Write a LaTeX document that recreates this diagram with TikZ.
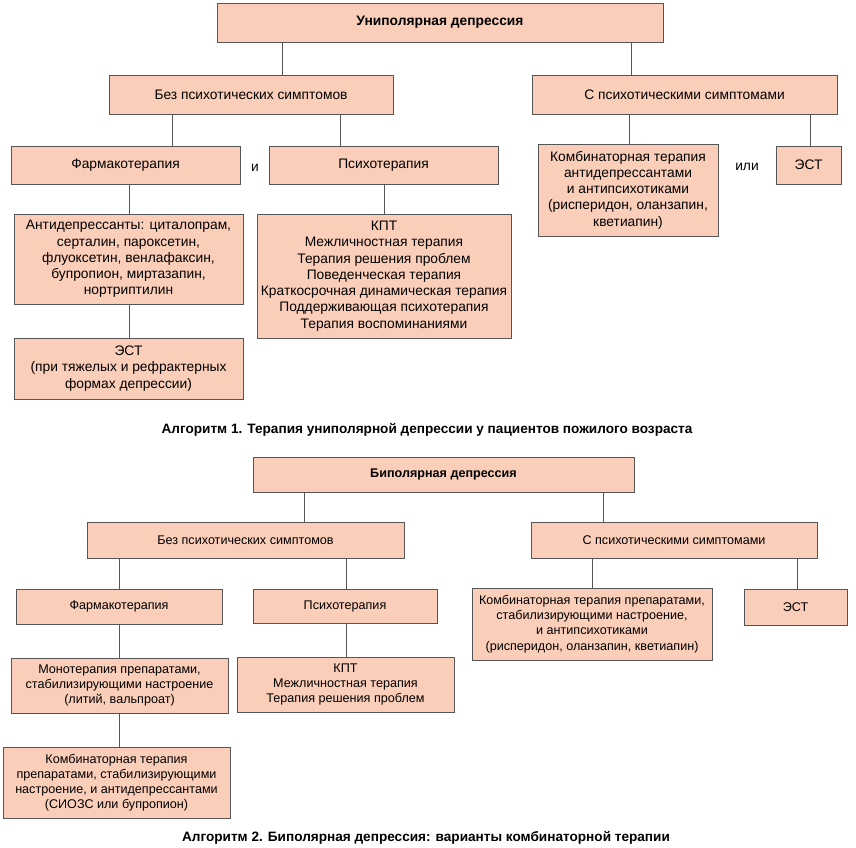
\documentclass[tikz,border=0pt]{standalone}
\usepackage{fontspec}
\setmainfont{Liberation Sans}
\definecolor{boxfill}{RGB}{251,206,185}
\definecolor{boxline}{RGB}{85,85,85}
\begin{document}
\begin{tikzpicture}[x=1pt,y=-1pt,
  box/.style={rectangle,draw=boxline,fill=boxfill,line width=0.9pt,inner sep=0pt,align=center},
  up/.style={box,font=\fontsize{13.8}{16.3}\selectfont},
  lo/.style={box,font=\fontsize{12.6}{15.2}\selectfont},
  conn/.style={draw=boxline,line width=0.9pt},
  plain/.style={inner sep=0pt,font=\fontsize{13.8}{15}\selectfont},
  caption/.style={inner sep=0pt,font=\fontsize{13.6}{15}\selectfont\bfseries}]
\useasboundingbox (0,0) rectangle (856,847);
% ---------- Algorithm 1 ----------
\node[up,minimum width=446pt,minimum height=39pt,font=\fontsize{13.8}{16.3}\selectfont\bfseries] (U0) at (440,22.5) {Униполярная депрессия};
\node[up,minimum width=284pt,minimum height=39pt] (U1) at (251,94.5) {Без психотических симптомов};
\node[up,minimum width=305pt,minimum height=39pt] (U2) at (684.5,94.5) {С психотическими симптомами};
\node[up,minimum width=229pt,minimum height=38pt] (U3) at (125.5,165) {Фармакотерапия};
\node[up,minimum width=229pt,minimum height=38pt] (U4) at (383.5,165) {Психотерапия};
\node[up,minimum width=180pt,minimum height=92pt] (U5) at (628,190) {Комбинаторная терапия\\антидепрессантами\\и антипсихотиками\\(рисперидон, оланзапин,\\кветиапин)};
\node[up,minimum width=65pt,minimum height=38pt] (U6) at (808.5,165) {ЭСТ};
\node[up,minimum width=229pt,minimum height=90pt] (U7) at (128.5,259) {Антидепрессанты: циталопрам,\\серталин, пароксетин,\\флуоксетин, венлафаксин,\\бупропион, миртазапин,\\нортриптилин};
\node[up,minimum width=254pt,minimum height=124pt] (U8) at (384,276) {КПТ\\Межличностная терапия\\Терапия решения проблем\\Поведенческая терапия\\Краткосрочная динамическая терапия\\Поддерживающая психотерапия\\Терапия воспоминаниями};
\node[up,minimum width=229pt,minimum height=61pt] (U9) at (128.5,368.5) {ЭСТ\\(при тяжелых и рефрактерных\\формах депрессии)};
\node[plain] (and1) at (255,168) {и};
\node[plain] (or1) at (747,167) {или};
\node[caption] (cap1) at (427,430) {Алгоритм 1. Терапия униполярной депрессии у пациентов пожилого возраста};
\coordinate (a1) at (282,0); \coordinate (a2) at (631,0);
\coordinate (a3) at (172,0); \coordinate (a4) at (340,0);
\coordinate (a5) at (629,0); \coordinate (a6) at (810,0);
\coordinate (a7) at (129,0); \coordinate (a8) at (384,0);
\draw[conn] (U0.south -| a1) -- (U1.north -| a1);
\draw[conn] (U0.south -| a2) -- (U2.north -| a2);
\draw[conn] (U1.south -| a3) -- (U3.north -| a3);
\draw[conn] (U1.south -| a4) -- (U4.north -| a4);
\draw[conn] (U2.south -| a5) -- (U5.north -| a5);
\draw[conn] (U2.south -| a6) -- (U6.north -| a6);
\draw[conn] (U3.south -| a7) -- (U7.north -| a7);
\draw[conn] (U4.south -| a8) -- (U8.north -| a8);
\draw[conn] (U7.south -| a7) -- (U9.north -| a7);
% ---------- Algorithm 2 ----------
\node[lo,minimum width=381pt,minimum height=35pt,font=\fontsize{12.6}{15.2}\selectfont\bfseries] (L0) at (443.5,474.5) {Биполярная депрессия};
\node[lo,minimum width=317pt,minimum height=36pt] (L1) at (245.5,540) {Без психотических симптомов};
\node[lo,minimum width=286pt,minimum height=36pt] (L2) at (674,540) {С психотическими симптомами};
\node[lo,minimum width=206pt,minimum height=35pt] (L3) at (119,606.5) {Фармакотерапия};
\node[lo,minimum width=184pt,minimum height=34pt] (L4) at (345,606) {Психотерапия};
\node[lo,minimum width=240pt,minimum height=72pt] (L5) at (592,624) {Комбинаторная терапия препаратами,\\стабилизирующими настроение,\\и антипсихотиками\\(рисперидон, оланзапин, кветиапин)};
\node[lo,minimum width=103pt,minimum height=36pt] (L6) at (795.5,607) {ЭСТ};
\node[lo,minimum width=217pt,minimum height=55pt] (L7) at (119.5,685.5) {Монотерапия препаратами,\\стабилизирующими настроение\\(литий, вальпроат)};
\node[lo,minimum width=217pt,minimum height=55pt] (L8) at (345.5,684.5) {КПТ\\Межличностная терапия\\Терапия решения проблем};
\node[lo,minimum width=227pt,minimum height=71pt] (L9) at (116.5,782.5) {Комбинаторная терапия\\препаратами, стабилизирующими\\настроение, и антидепрессантами\\(СИОЗС или бупропион)};
\node[caption] (cap2) at (426,838) {Алгоритм 2. Биполярная депрессия: варианты комбинаторной терапии};
\coordinate (b1) at (304,0); \coordinate (b2) at (603,0);
\coordinate (b3) at (119,0); \coordinate (b4) at (346,0);
\coordinate (b5) at (592,0); \coordinate (b6) at (797,0);
\draw[conn] (L0.south -| b1) -- (L1.north -| b1);
\draw[conn] (L0.south -| b2) -- (L2.north -| b2);
\draw[conn] (L1.south -| b3) -- (L3.north -| b3);
\draw[conn] (L1.south -| b4) -- (L4.north -| b4);
\draw[conn] (L2.south -| b5) -- (L5.north -| b5);
\draw[conn] (L2.south -| b6) -- (L6.north -| b6);
\draw[conn] (L3.south -| b3) -- (L7.north -| b3);
\draw[conn] (L4.south -| b4) -- (L8.north -| b4);
\draw[conn] (L7.south -| b3) -- (L9.north -| b3);
\end{tikzpicture}
\end{document}
